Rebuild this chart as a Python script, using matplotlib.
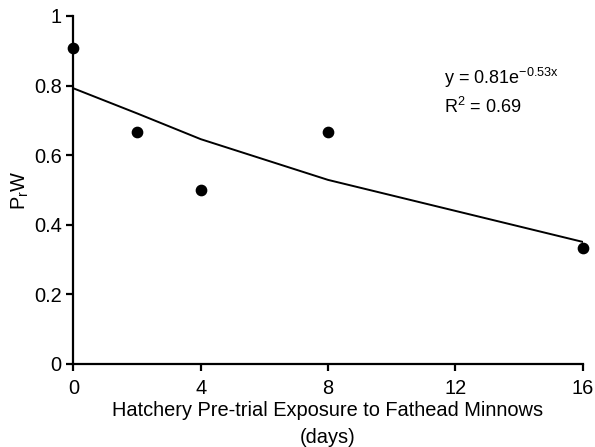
import matplotlib
matplotlib.use('Agg')
import matplotlib.pyplot as plt

plt.rcParams['font.family'] = ['Liberation Sans', 'DejaVu Sans']

# days of exposure and observed PrW
days = [0, 2, 4, 8, 16]
prw = [0.909, 0.666, 0.5, 0.666, 0.333]
# trendline as drawn
trend = [0.792, 0.72, 0.646, 0.529, 0.351]

fig = plt.figure(figsize=(5.95, 4.47), dpi=100)
ax = fig.add_axes([0.1235, 0.1857, 0.8555, 0.7786])

ax.plot(days, trend, color='black', lw=1.4, zorder=2)
ax.scatter(days, prw, s=55, color='black', zorder=3, clip_on=False)

ax.set_xlim(0, 16)
ax.set_ylim(0, 1)
ax.set_xticks([0, 4, 8, 12, 16])
ax.set_yticks([0, 0.2, 0.4, 0.6, 0.8, 1])
ax.set_yticklabels(['0', '0.2', '0.4', '0.6', '0.8', '1'])

for s in ['top', 'right']:
    ax.spines[s].set_visible(False)
for s in ['left', 'bottom']:
    ax.spines[s].set_linewidth(1.6)
ax.tick_params(width=1.6, length=5, labelsize=14.4, colors='black')
ax.tick_params(axis='x', pad=6)

ax.set_xlabel('Hatchery Pre-trial Exposure to Fathead Minnows\n(days)', fontsize=14.4, labelpad=2, linespacing=1.55)
ax.set_ylabel('P$_\\mathregular{r}$W', fontsize=14.4, labelpad=2)

ax.text(0.728, 0.805, 'y = 0.81e$^{\\mathregular{\u22120.53x}}$', transform=ax.transAxes, fontsize=13)
ax.text(0.728, 0.72, 'R$^{\\mathregular{2}}$ = 0.69', transform=ax.transAxes, fontsize=13)

fig.savefig('out.png', dpi=100)
